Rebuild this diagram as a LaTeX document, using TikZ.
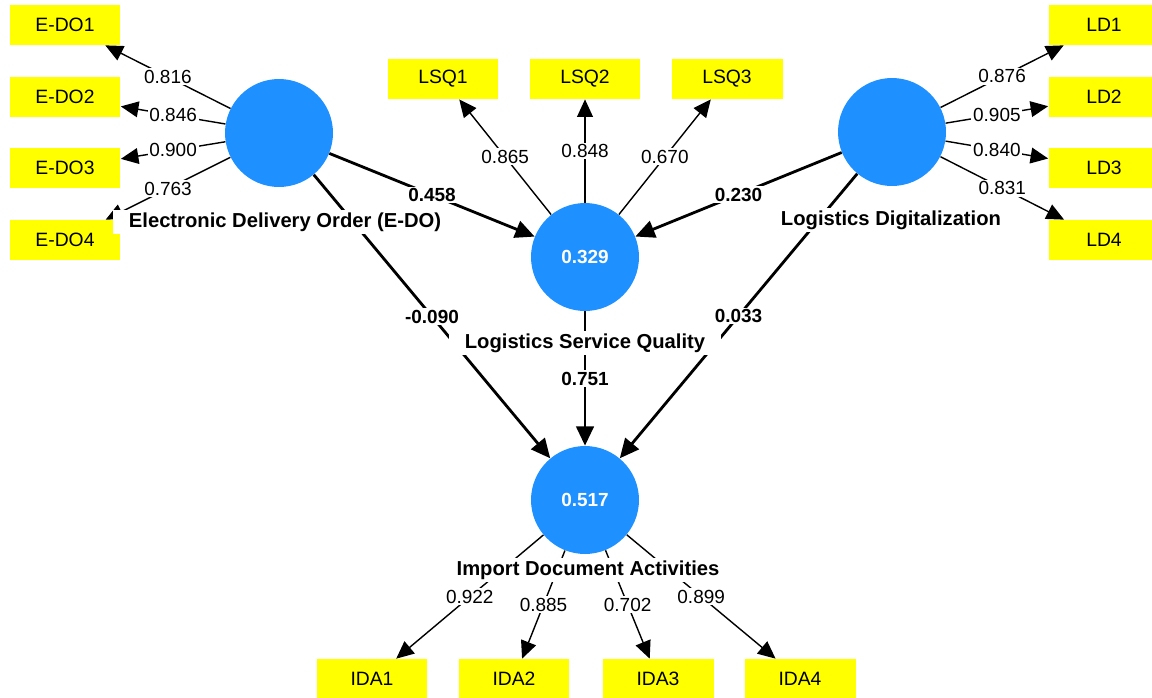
\documentclass[tikz,border=0pt]{standalone}
\usepackage{fontspec}
\setmainfont{Liberation Sans}
\usetikzlibrary{arrows.meta}
\definecolor{lvblue}{RGB}{30,144,255}
\definecolor{indy}{RGB}{255,255,0}
\begin{document}
\begin{tikzpicture}[x=0.02cm,y=-0.02cm,
 indbox/.style={fill=indy, minimum width=2.22cm, minimum height=0.8cm, inner sep=0pt, font=\fontsize{11}{13}\selectfont},
 lv/.style={circle, fill=lvblue, minimum size=2.16cm, inner sep=0pt, font=\bfseries\fontsize{10.8}{13}\selectfont, text=white},
 load/.style={line width=0.8pt, -{Triangle[length=10pt,width=9pt]}},
 pathc/.style={line width=1.6pt, -{Triangle[length=11pt,width=10pt]}},
 lval/.style={fill=white, inner sep=1pt, font=\fontsize{10.8}{12}\selectfont},
 pval/.style={fill=white, inner sep=1pt, font=\bfseries\fontsize{10.8}{12}\selectfont},
 lvname/.style={fill=white, inner xsep=9pt, inner ysep=1.5pt, font=\bfseries\fontsize{11.5}{13}\selectfont}
]
\clip (0,0) rectangle (1152,697);
\fill[white] (0,0) rectangle (1152,697);

% indicator boxes
\node[indbox] (edo1) at (65,25) {E-DO1};
\node[indbox] (edo2) at (65,97) {E-DO2};
\node[indbox] (edo3) at (65,168) {E-DO3};
\node[indbox] (edo4) at (65,240) {E-DO4};
\node[indbox] (ld1) at (1104,25) {LD1};
\node[indbox] (ld2) at (1104,97) {LD2};
\node[indbox] (ld3) at (1104,168) {LD3};
\node[indbox] (ld4) at (1104,240) {LD4};
\node[indbox] (lsq1) at (443,79) {LSQ1};
\node[indbox] (lsq2) at (585,79) {LSQ2};
\node[indbox] (lsq3) at (727,79) {LSQ3};
\node[indbox] (ida1) at (372,679) {IDA1};
\node[indbox] (ida2) at (514,679) {IDA2};
\node[indbox] (ida3) at (658,679) {IDA3};
\node[indbox] (ida4) at (800,679) {IDA4};

% latent variables
\node[lv] (edo) at (279,133) {};
\node[lv] (lsq) at (585,257) {0.329};
\node[lv] (ld) at (892,132) {};
\node[lv] (ida) at (585,500) {0.517};

% loadings
\draw[load] (edo) -- node[lval]{0.816} (edo1);
\draw[load] (edo) -- node[lval]{0.846} (edo2);
\draw[load] (edo) -- node[lval]{0.900} (edo3);
\draw[load] (edo) -- node[lval]{0.763} (edo4);
\draw[load] (ld) -- node[lval]{0.876} (ld1);
\draw[load] (ld) -- node[lval]{0.905} (ld2);
\draw[load] (ld) -- node[lval]{0.840} (ld3);
\draw[load] (ld) -- node[lval]{0.831} (ld4);
\draw[load] (lsq) -- node[lval]{0.865} (lsq1);
\draw[load] (lsq) -- node[lval]{0.848} (lsq2);
\draw[load] (lsq) -- node[lval]{0.670} (lsq3);
\draw[load] (ida) -- node[lval]{0.922} (ida1);
\draw[load] (ida) -- node[lval]{0.885} (ida2);
\draw[load] (ida) -- node[lval]{0.702} (ida3);
\draw[load] (ida) -- node[lval]{0.899} (ida4);

% structural paths
\draw[pathc] (edo) -- node[pval]{0.458} (lsq);
\draw[pathc] (ld) -- node[pval]{0.230} (lsq);
\draw[pathc] (edo) -- node[pval]{-0.090} (ida);
\draw[pathc] (ld) -- node[pval]{0.033} (ida);
\draw[pathc] (lsq) -- node[pval]{0.751} (ida);

% construct names
\node[lvname] (edoname) at (285,222) {Electronic Delivery Order (E-DO)};
\node[lvname] (ldname) at (891,220) {Logistics Digitalization};
\node[lvname] (lsqname) at (585,343) {Logistics Service Quality};
\node[lvname] (idaname) at (588,570) {Import Document Activities};
\end{tikzpicture}
\end{document}
